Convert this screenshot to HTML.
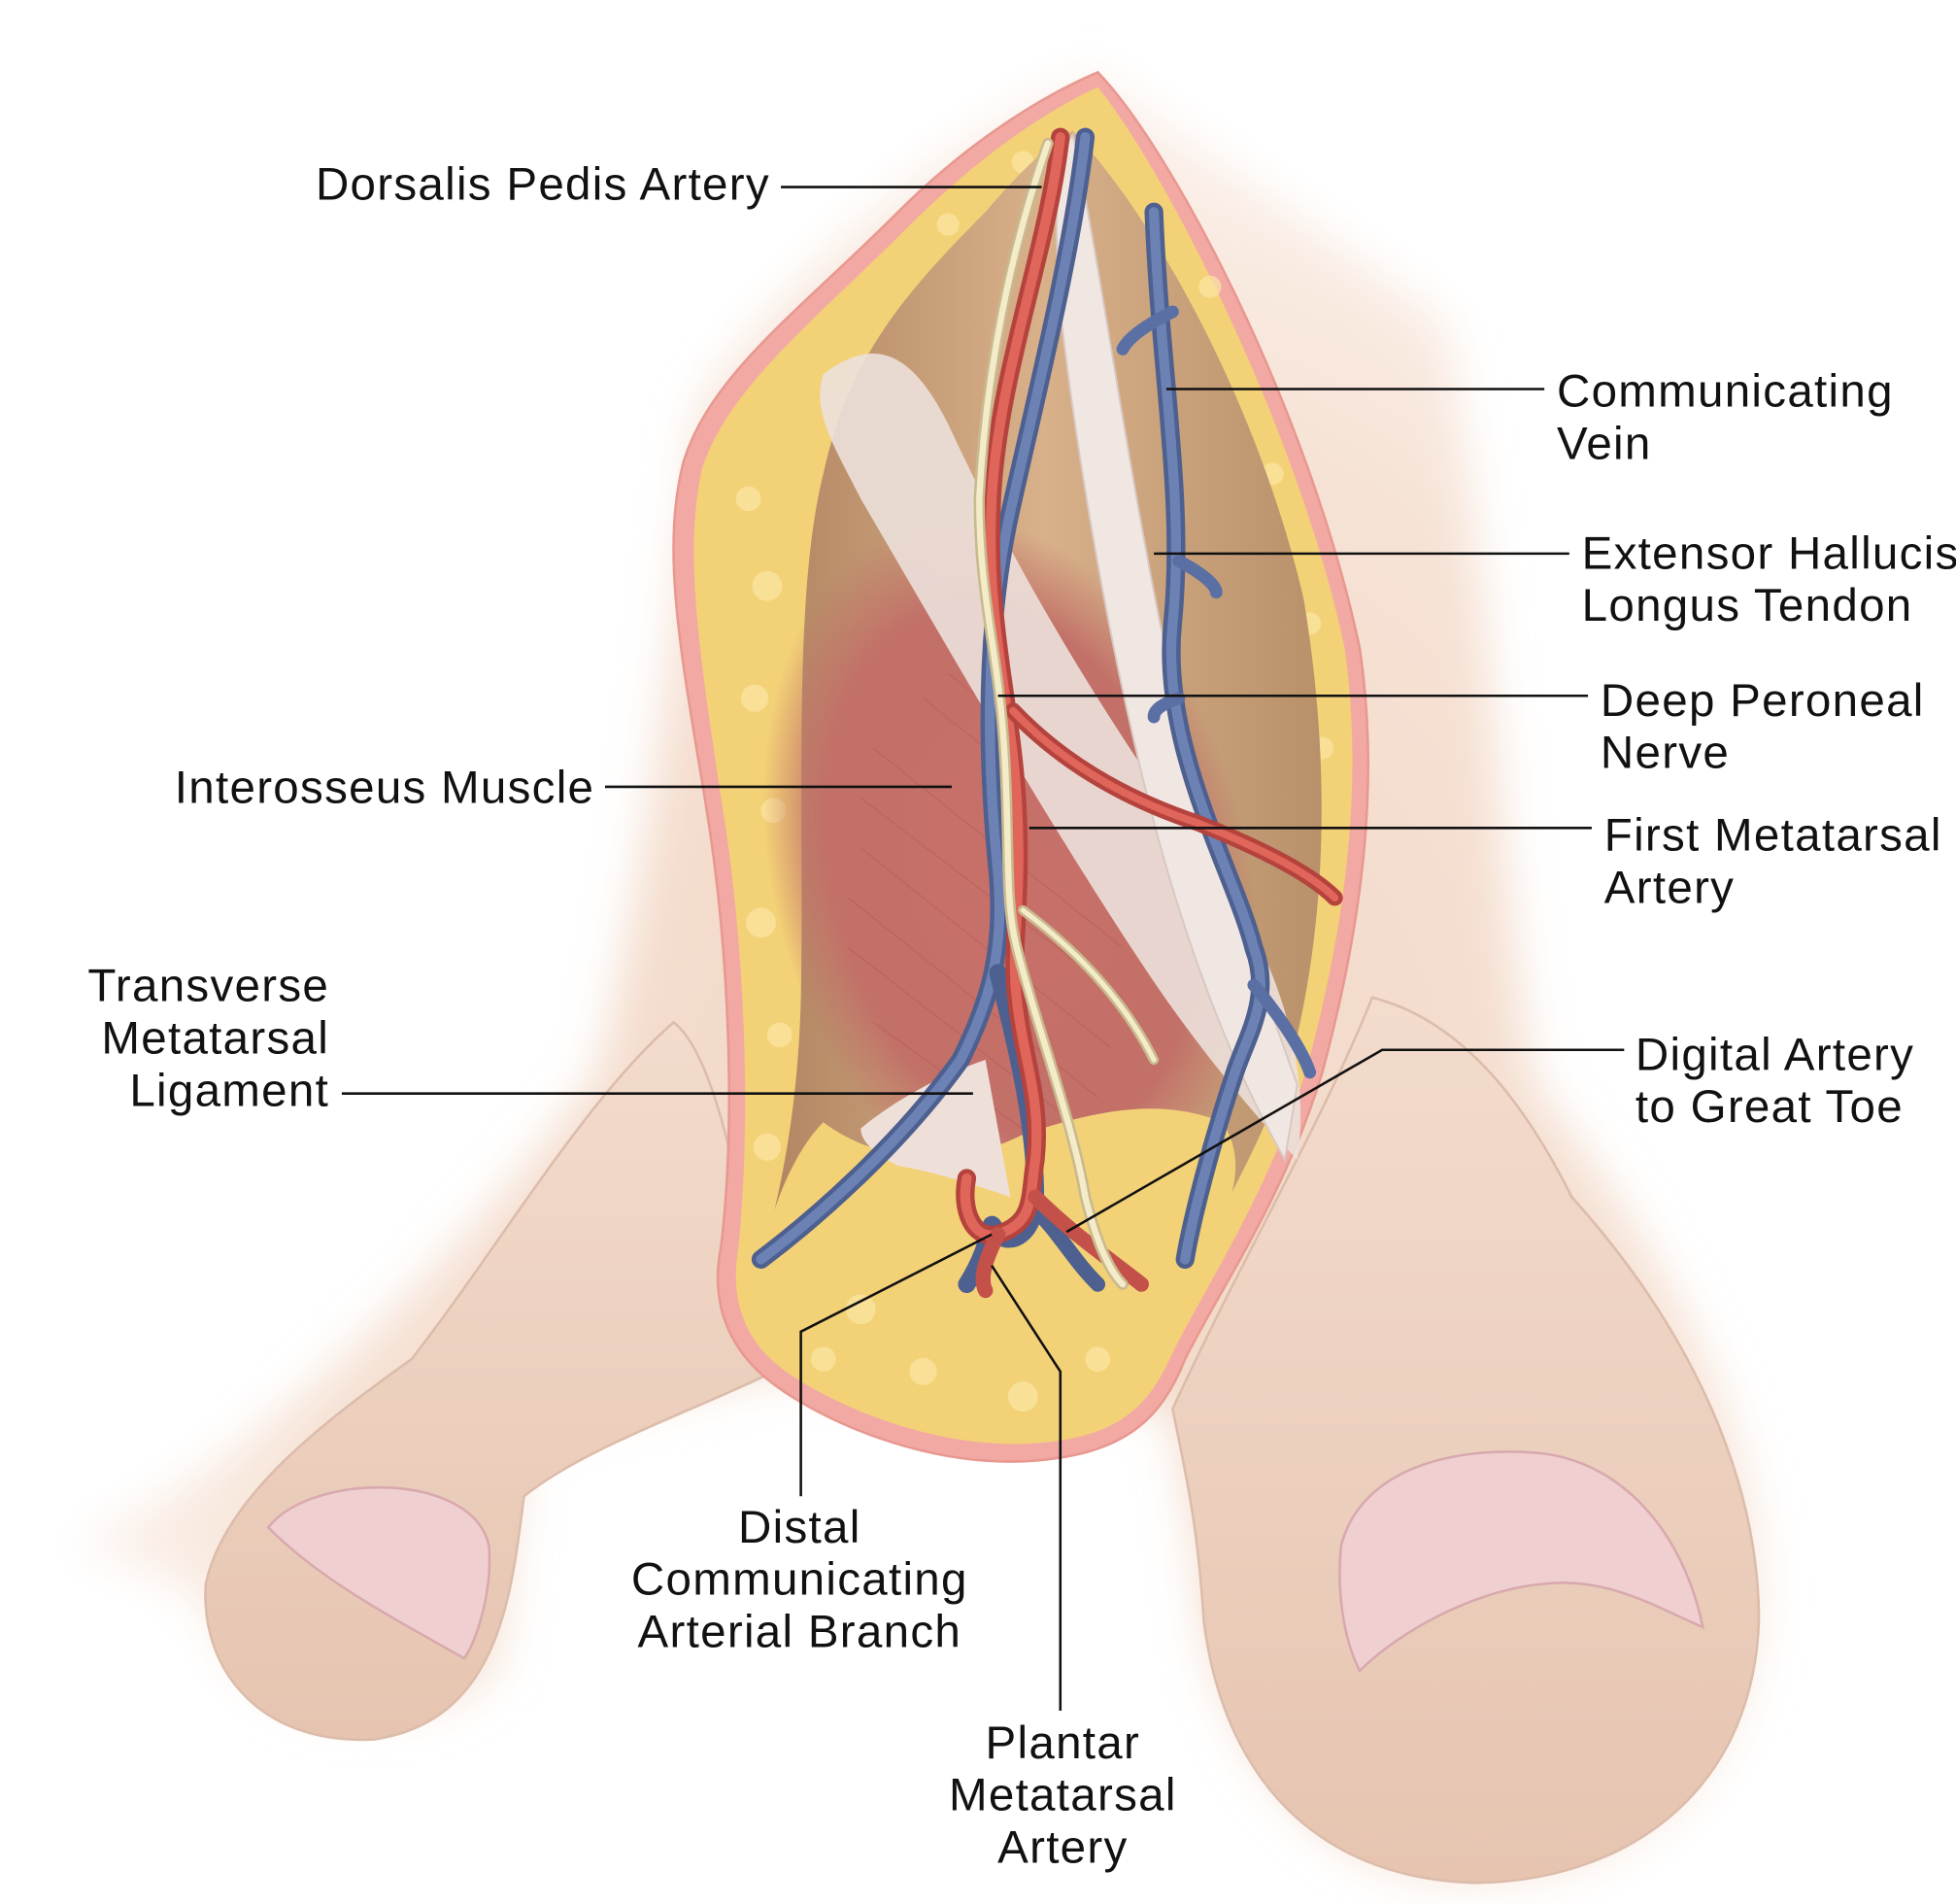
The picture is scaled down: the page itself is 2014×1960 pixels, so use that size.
<!DOCTYPE html>
<html><head><meta charset="utf-8"><style>
html,body{margin:0;padding:0;background:#fff;}
svg{display:block}
text{font-family:"Liberation Sans",sans-serif;font-size:37px;letter-spacing:1px;fill:#111;}
</style></head><body>
<svg width="2014" height="1960" viewBox="0 0 1568 1527" preserveAspectRatio="none" xmlns="http://www.w3.org/2000/svg">
<defs>
<radialGradient id="bg" cx="0.55" cy="0.6" r="0.65">
<stop offset="0" stop-color="#f1d6c4"/><stop offset="0.65" stop-color="#f6e2d5"/><stop offset="1" stop-color="#fdf6f2"/>
</radialGradient>
<linearGradient id="toe" x1="0" y1="0" x2="0" y2="1">
<stop offset="0" stop-color="#f3dccd"/><stop offset="1" stop-color="#e6c4b0"/>
</linearGradient>
<linearGradient id="brown" x1="0" y1="0" x2="1" y2="0">
<stop offset="0" stop-color="#b08460"/><stop offset="0.5" stop-color="#d8b08a"/><stop offset="1" stop-color="#b8906a"/>
</linearGradient>
<radialGradient id="musc" cx="0.5" cy="0.5" r="0.5">
<stop offset="0" stop-color="#c8706a"/><stop offset="0.75" stop-color="#c27068"/><stop offset="1" stop-color="#c27068" stop-opacity="0"/>
</radialGradient>
<filter id="blur" x="-20%" y="-20%" width="140%" height="140%"><feGaussianBlur stdDeviation="18"/></filter>
</defs>
<rect width="1568" height="1527" fill="#fff"/>
<path d="M60 1240 C200 1180 380 1000 480 860 C520 700 540 500 560 330 C640 200 820 70 880 60 C960 120 1080 200 1160 260 C1200 500 1200 700 1230 870 C1330 1000 1420 1150 1410 1300 C1400 1440 1300 1510 1180 1510 C1050 1510 960 1380 960 1250 L940 1130 L620 1100 L420 1150 L400 1330 C380 1390 200 1400 170 1300 C160 1270 100 1250 60 1240 Z" fill="url(#bg)" filter="url(#blur)"/>
<path d="M165 1270 C180 1200 260 1140 330 1090 C400 1000 470 880 540 820 C580 850 600 1000 620 1100 C560 1130 470 1160 420 1200 C410 1280 400 1380 300 1395 C210 1400 160 1340 165 1270 Z" fill="url(#toe)" stroke="#dcbcaa" stroke-width="2"/>
<path d="M215 1225 C250 1180 380 1180 392 1240 C395 1280 380 1320 372 1330 C320 1300 260 1270 215 1225 Z" fill="#f0cfd1" stroke="#d8a9ad" stroke-width="2"/>
<path d="M940 1130 C1000 1000 1060 900 1100 800 C1180 820 1230 900 1260 960 C1350 1060 1410 1180 1410 1300 C1405 1440 1300 1510 1180 1510 C1050 1505 980 1420 965 1300 C960 1220 950 1180 940 1130 Z" fill="url(#toe)" stroke="#dcbcaa" stroke-width="2"/>
<path d="M1075 1240 C1090 1180 1160 1160 1230 1165 C1300 1170 1350 1230 1365 1305 C1330 1290 1290 1265 1240 1270 C1180 1275 1120 1310 1090 1340 C1075 1310 1072 1270 1075 1240 Z" fill="#f0cfd1" stroke="#d8a9ad" stroke-width="2"/>
<path d="M880 58 C940 120 1050 330 1090 520 C1105 620 1095 730 1060 860 C1030 960 980 1030 950 1090 C930 1140 900 1168 820 1172 C740 1175 660 1140 620 1110 C580 1080 570 1040 578 1000 C590 900 585 760 565 640 C545 520 530 440 548 370 C570 300 640 250 720 170 C780 110 840 75 880 58 Z" fill="#f2a9a4" stroke="#e89890" stroke-width="2"/>
<path d="M880 70 C930 130 1040 340 1078 520 C1092 620 1082 730 1048 855 C1018 955 970 1025 940 1085 C920 1130 895 1155 820 1158 C745 1160 670 1128 630 1100 C595 1075 585 1040 592 1000 C602 900 598 760 578 640 C560 520 548 440 563 375 C585 310 650 260 730 180 C785 125 840 88 880 70 Z" fill="#f3d177"/>
<g fill="#fbe7a4" opacity="0.7">
<circle cx="600" cy="400" r="10"/><circle cx="615" cy="470" r="12"/><circle cx="605" cy="560" r="11"/><circle cx="620" cy="650" r="10"/><circle cx="610" cy="740" r="12"/><circle cx="625" cy="830" r="10"/><circle cx="615" cy="920" r="11"/>
<circle cx="690" cy="1050" r="12"/><circle cx="740" cy="1100" r="11"/><circle cx="820" cy="1120" r="12"/><circle cx="880" cy="1090" r="10"/><circle cx="660" cy="1090" r="10"/>
<circle cx="1050" cy="500" r="9"/><circle cx="1060" cy="600" r="9"/><circle cx="1020" cy="380" r="9"/><circle cx="760" cy="180" r="9"/><circle cx="820" cy="130" r="9"/><circle cx="970" cy="230" r="9"/>
</g>
<path d="M860 105 C930 180 1010 330 1045 480 C1065 600 1065 720 1040 830 C1020 900 990 950 960 1010 L610 1012 C625 960 640 890 642 800 C645 650 635 480 660 380 C680 290 720 240 790 170 C820 135 845 112 860 105 Z" fill="url(#brown)"/>
<ellipse cx="810" cy="700" rx="190" ry="290" fill="url(#musc)" transform="rotate(-15 810 700)"/>
<g stroke="#a9524c" stroke-width="1" opacity="0.35">
<path d="M700 600 L900 760 M690 640 L900 800 M690 680 L890 840 M680 720 L880 880 M680 760 L860 900 M700 820 L840 920 M740 560 L940 720 M760 540 L950 690"/>
</g>
<path d="M610 1012 C620 960 640 920 660 900 C700 930 760 940 820 910 C880 890 930 880 980 900 C1000 930 990 970 960 1010 L930 1030 L610 1012 Z" fill="#f3d177"/>
<path d="M660 300 C700 270 730 280 760 340 C820 470 900 600 990 720 C1030 790 1050 860 1040 930 C1010 900 960 840 920 780 C840 660 760 520 690 400 C670 360 650 330 660 300 Z" fill="#ece0da" opacity="0.9"/>
<path d="M860 108 C880 200 900 350 930 500 C960 640 1000 760 1040 870 L1030 930 C990 860 950 760 920 640 C890 520 865 380 850 250 C845 180 845 130 860 108 Z" fill="#f0e6e2" stroke="#d8c8c2" stroke-width="1.5"/>
<path d="M690 905 C720 880 760 860 790 850 L810 960 C780 950 750 940 720 935 C700 925 690 915 690 905 Z" fill="#eedfd9"/>
<g fill="none" stroke-linecap="round">
<path d="M925 170 C930 300 950 400 940 500 C930 600 990 700 1005 760 C1020 800 1000 830 990 860 C970 920 955 980 950 1010" stroke="#4d608f" stroke-width="15"/>
<path d="M925 170 C930 300 950 400 940 500 C930 600 990 700 1005 760 C1020 800 1000 830 990 860 C970 920 955 980 950 1010" stroke="#6d82b4" stroke-width="8"/>
<path d="M1005 790 C1030 820 1045 845 1050 860 M940 250 C920 260 905 270 900 280 M945 450 C965 460 975 470 975 475 M945 560 C930 565 925 570 925 575" stroke="#5a6fa3" stroke-width="10"/>
<path d="M870 110 C860 200 830 320 810 410 C790 500 790 600 800 700 C805 760 795 800 770 850 C720 920 650 980 610 1010" stroke="#4d608f" stroke-width="15"/>
<path d="M870 110 C860 200 830 320 810 410 C790 500 790 600 800 700 C805 760 795 800 770 850 C720 920 650 980 610 1010" stroke="#6d82b4" stroke-width="8"/>
<path d="M800 780 C815 840 830 900 830 960 C830 990 810 1000 800 990 C790 970 800 990 775 1030" stroke="#4d608f" stroke-width="14"/>
<path d="M830 970 C850 990 860 1010 880 1030" stroke="#4d608f" stroke-width="12"/>
<path d="M850 110 C840 200 800 300 795 400 C790 500 810 560 815 640 C820 720 810 760 815 800 C820 850 835 880 830 930 C825 960 830 980 800 990 C780 995 770 970 775 945" stroke="#b5433d" stroke-width="15"/>
<path d="M850 110 C840 200 800 300 795 400 C790 500 810 560 815 640 C820 720 810 760 815 800 C820 850 835 880 830 930 C825 960 830 980 800 990 C780 995 770 970 775 945" stroke="#e0655a" stroke-width="8"/>
<path d="M812 570 C850 610 900 640 960 660 C1010 680 1050 700 1070 720" stroke="#b5433d" stroke-width="13"/>
<path d="M812 570 C850 610 900 640 960 660 C1010 680 1050 700 1070 720" stroke="#e0655a" stroke-width="6"/>
<path d="M830 960 C860 990 890 1010 915 1030 M800 990 C790 1010 785 1025 790 1035" stroke="#c4504a" stroke-width="12"/>
<path d="M840 115 C810 200 790 300 785 400 C785 480 800 520 805 600 C810 680 805 720 815 760 C830 820 860 900 870 960 C880 1000 890 1020 900 1030" stroke="#c9b98e" stroke-width="9"/>
<path d="M840 115 C810 200 790 300 785 400 C785 480 800 520 805 600 C810 680 805 720 815 760 C830 820 860 900 870 960 C880 1000 890 1020 900 1030" stroke="#f4ecc8" stroke-width="5"/>
<path d="M820 730 C860 760 900 800 925 850" stroke="#c9b98e" stroke-width="8"/>
<path d="M820 730 C860 760 900 800 925 850" stroke="#f4ecc8" stroke-width="4"/>
</g>
<g stroke="#111" stroke-width="2" fill="none">
<path d="M626 150 L835 150"/>
<path d="M935 312 L1238 312"/>
<path d="M925 444 L1258 444"/>
<path d="M800 558 L1273 558"/>
<path d="M485 631 L763 631"/>
<path d="M825 664 L1276 664"/>
<path d="M274 877 L780 877"/>
<path d="M855 988 L1108 842 L1302 842"/>
<path d="M642 1200 L642 1068 L795 990"/>
<path d="M850 1372 L850 1100 L795 1015"/>
</g>
<text x="253" y="160">Dorsalis Pedis Artery</text>
<text x="1248" y="326">Communicating</text>
<text x="1248" y="368">Vein</text>
<text x="1268" y="456">Extensor Hallucis</text>
<text x="1268" y="498">Longus Tendon</text>
<text x="1283" y="574">Deep Peroneal</text>
<text x="1283" y="616">Nerve</text>
<text x="140" y="644">Interosseus Muscle</text>
<text x="1286" y="682">First Metatarsal</text>
<text x="1286" y="724">Artery</text>
<text x="264" y="803" text-anchor="end">Transverse</text>
<text x="264" y="845" text-anchor="end">Metatarsal</text>
<text x="264" y="887" text-anchor="end">Ligament</text>
<text x="1311" y="858">Digital Artery</text>
<text x="1311" y="900">to Great Toe</text>
<text x="641" y="1237" text-anchor="middle">Distal</text>
<text x="641" y="1279" text-anchor="middle">Communicating</text>
<text x="641" y="1321" text-anchor="middle">Arterial Branch</text>
<text x="852" y="1410" text-anchor="middle">Plantar</text>
<text x="852" y="1452" text-anchor="middle">Metatarsal</text>
<text x="852" y="1494" text-anchor="middle">Artery</text>
</svg>
</body></html>
